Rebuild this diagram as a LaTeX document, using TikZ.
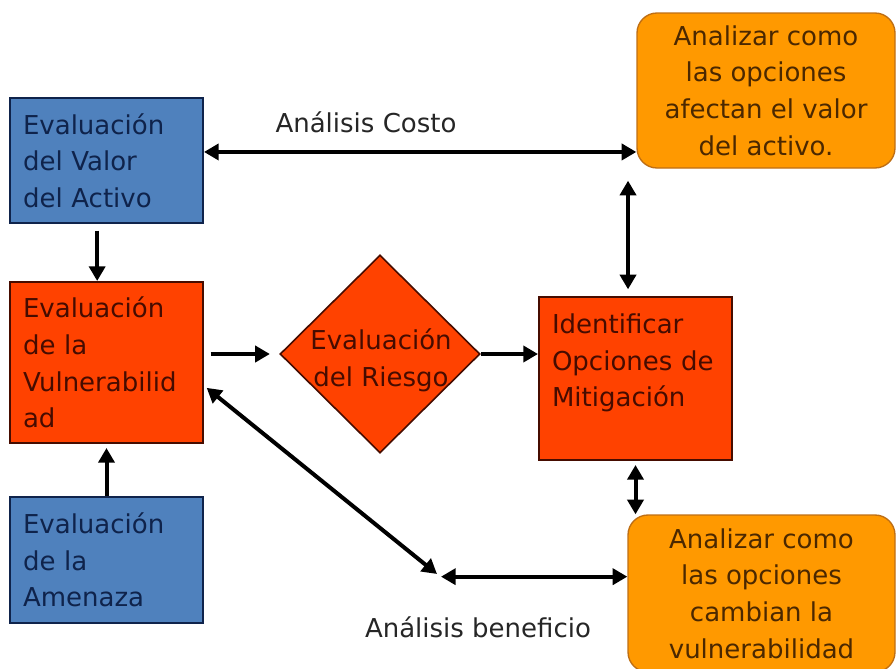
\documentclass[tikz,border=0pt]{standalone}
\usepackage{fontspec}
\setmainfont{DejaVu Sans}
\usetikzlibrary{shapes.geometric,arrows.meta}

\definecolor{azul}{RGB}{79,129,189}
\definecolor{azulosc}{RGB}{15,35,75}
\definecolor{rojo}{RGB}{255,66,0}
\definecolor{rojoosc}{RGB}{70,12,0}
\definecolor{naranja}{RGB}{255,153,0}
\definecolor{naranjaosc}{RGB}{75,40,0}
\definecolor{bordenar}{RGB}{190,110,20}

\tikzset{every picture/.style={line width=0.75pt}}
\tikzset{
  letra/.style={font=\fontsize{19.5}{27.5}\selectfont},
  caja/.style={letra, rectangle, draw, line width=1.5pt, inner xsep=9.75pt, inner ysep=0pt,
    text width=125.25pt, align=left},
  cajaazul/.style={caja, fill=azul, draw=azulosc, text=azulosc},
  cajaroja/.style={caja, fill=rojo, draw=rojoosc, text=rojoosc},
  cajanar/.style={letra, rectangle, rounded corners=15pt, draw=bordenar, line width=1pt,
    fill=naranja, text=naranjaosc, align=center, inner sep=0pt},
  rombo/.style={diamond, draw=rojoosc, fill=rojo, line width=1.2pt, aspect=1, inner sep=0pt},
  etiqueta/.style={letra, text=black!85, inner sep=0.75pt},
  flecha/.style={line width=3pt, -{Triangle[length=11pt,width=12pt]}},
  doble/.style={line width=3pt, {Triangle[length=11pt,width=12pt]}-{Triangle[length=11pt,width=12pt]}}
}

\begin{document}
\begin{tikzpicture}[x=0.75pt,y=0.75pt,yscale=-1,xscale=1]
	\useasboundingbox (0,0) rectangle (896,668);
	
	%Shape: Rectangle
	\node [cajaazul, minimum height=93.75pt] (activo) at (106.5,160.5) {Evaluación\\del Valor\\del Activo};
	%Shape: Rectangle
	\node [cajaroja, minimum height=120.75pt] (vuln) at (106.5,362.5) {Evaluación\\de la\\Vulnerabilid\\ad};
	%Shape: Rectangle
	\node [cajaazul, minimum height=94.5pt] (amenaza) at (106.5,560) {Evaluación\\de la\\Amenaza};
	%Shape: Diamond
	\node [rombo, minimum width=150pt, minimum height=148.5pt] (riesgo) at (380,354) {};
	%Shape: Rectangle
	\node [cajaroja, minimum height=122.25pt] (mitig) at (635.5,378.5) {Identificar\\Opciones de\\Mitigación\\\mbox{}};
	%Rounded Rect
	\node [cajanar, minimum width=193.5pt, minimum height=116.25pt] (valor) at (766,90.5) {Analizar como\\las opciones\\afectan el valor\\del activo.};
	%Rounded Rect
	\node [cajanar, minimum width=200.25pt, minimum height=117.75pt] (cambio) at (761.5,593.5) {Analizar como\\las opciones\\cambian la\\vulnerabilidad};
	
	% Text Node
	\node [letra, text=rojoosc, align=center, inner sep=0.75pt] (riesgotxt) at (381,360) {Evaluación\\del Riesgo};
	% Text Node
	\node [etiqueta] (costo) at (366,122) {Análisis Costo};
	% Text Node
	\node [etiqueta] (beneficio) at (478,627) {Análisis beneficio};
	
	\coordinate (cruce) at (437,574);
	
	%Straight Lines
	\draw [doble] ([yshift=-6.4pt]activo.east) -- ([yshift=-6.4pt]activo.east -| valor.west);
	%Straight Lines
	\draw [flecha] ([xshift=-7pt,yshift=5pt]activo.south) -- ([xshift=-7pt]vuln.north);
	%Straight Lines
	\draw [flecha] (amenaza.north) -- ([yshift=3pt]vuln.south);
	%Straight Lines
	\draw [flecha] ([xshift=5pt]vuln.east |- riesgo.west) -- ([xshift=-7pt]riesgo.west);
	%Straight Lines
	\draw [flecha] (riesgo.east) -- (riesgo.east -| mitig.west);
	%Straight Lines
	\draw [doble] ([xshift=-5.6pt,yshift=-5pt]mitig.north) -- ([xshift=-5.6pt,yshift=9pt]mitig.north |- valor.south);
	%Straight Lines
	\draw [doble] ([yshift=3pt]mitig.south) -- (mitig.south |- cambio.north);
	%Straight Lines
	\draw [doble] ([xshift=2pt,yshift=19pt]vuln.east) -- (cruce);
	%Straight Lines
	\draw [doble] ([xshift=3pt,yshift=2pt]cruce) -- ([yshift=2pt]cruce -| cambio.west);
\end{tikzpicture}
\end{document}
